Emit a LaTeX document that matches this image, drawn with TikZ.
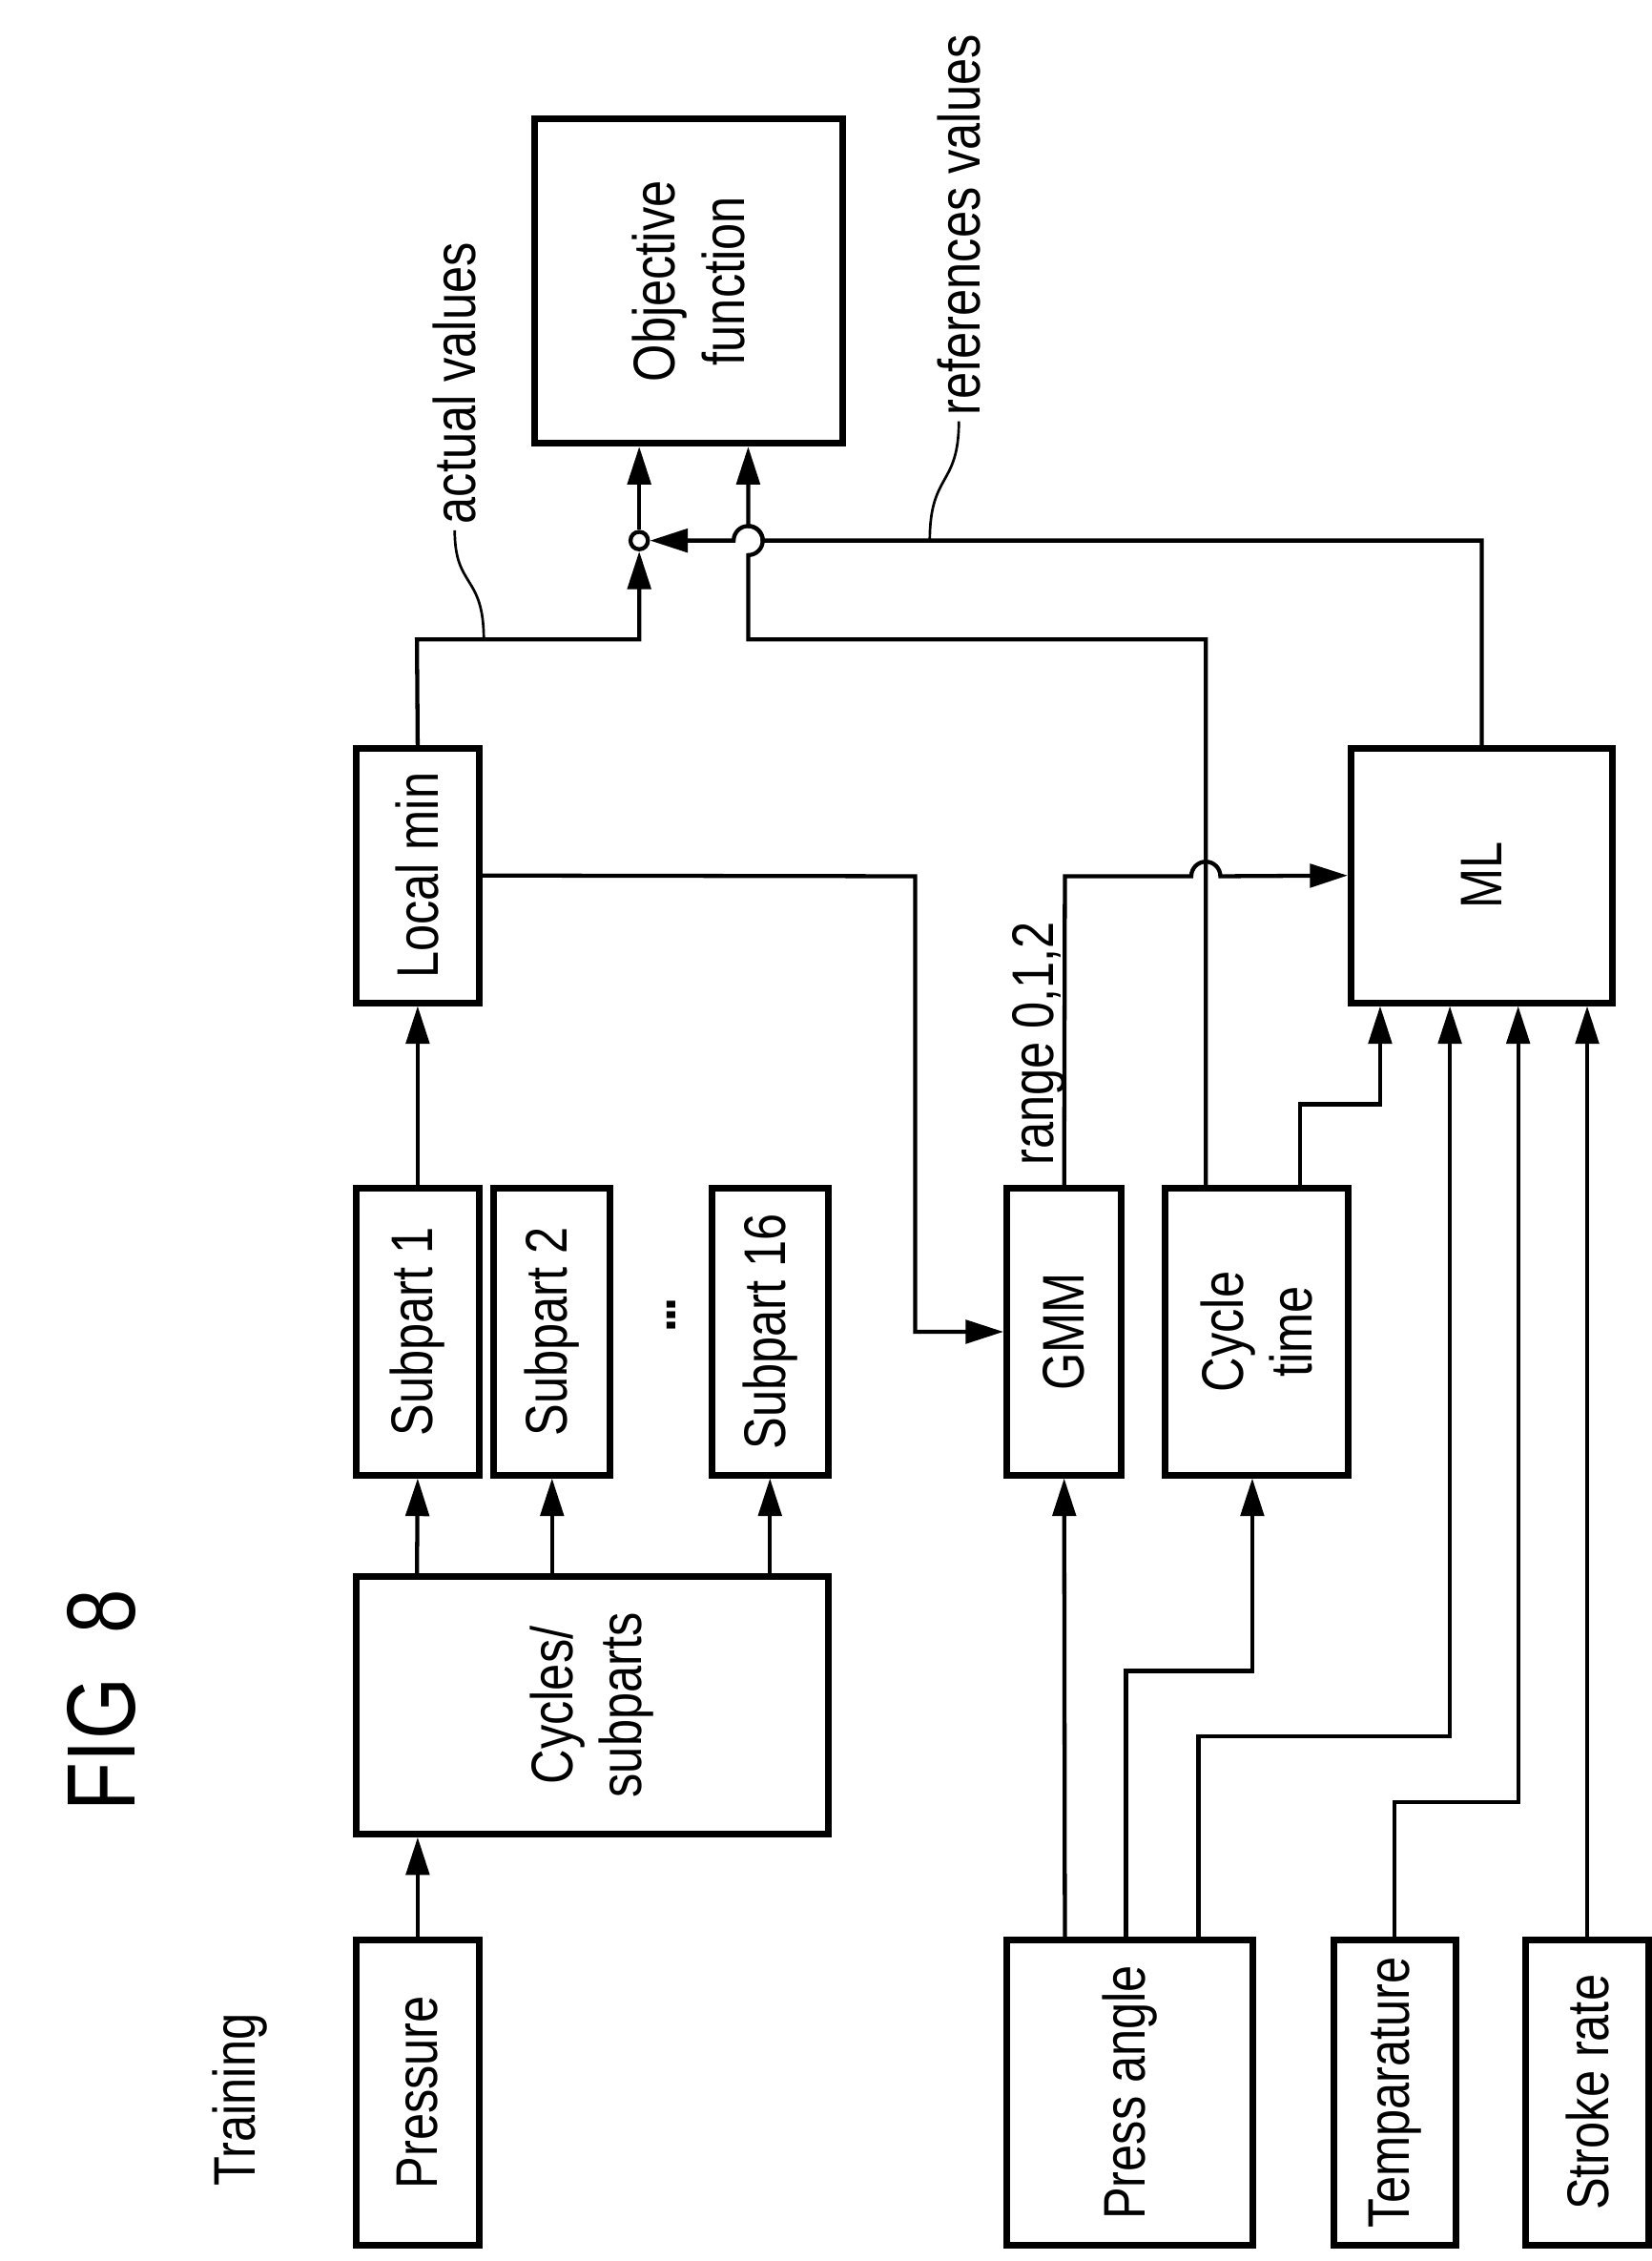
\documentclass[tikz,border=0pt]{standalone}
\usepackage{fontspec}
\setmainfont{Liberation Sans}[FakeStretch=0.82]
\usetikzlibrary{arrows.meta,positioning,calc}

\begin{document}
\begin{tikzpicture}[
		x=0.01cm,y=-0.01cm,
		>={Triangle[length=2.6mm,width=1.6mm]},
		line width=0.5pt,
		every node/.style={font=\fontsize{11.5}{13.5}\selectfont},
		box/.style={
			draw,
			line width=1.3pt,
			inner sep=0pt
		},
		txt/.style={
			rotate=90,
			align=center
		},
		flow/.style={
			->,
			line width=0.8pt
		},
		junction/.style={
			draw,
			circle,
			fill=white,
			line width=0.8pt,
			minimum size=1.2mm,
			inner sep=0pt
		}
		]
		\useasboundingbox (0,0) rectangle (1137,1556);
		% titles
		\node[txt,font=\fontsize{19}{20}\selectfont] (fig) at (70,1170) {FIG\ \ 8};
		\node[txt] (training) at (165,1445) {Training};
		% inputs
		\node[box,minimum width=0.85cm,minimum height=2.1cm] (pressure) at (287.5,1440) {};
		\node[txt] at (pressure) {Pressure};
		\node[box,minimum width=1.69cm,minimum height=2.1cm] (press) at (777.5,1440) {};
		\node[txt] at (press) {Press angle};
		\node[box,minimum width=0.84cm,minimum height=2.1cm] (temp) at (960,1440) {};
		\node[txt] at (temp) {Temparature};
		\node[box,minimum width=0.85cm,minimum height=2.1cm] (stroke) at (1092.5,1440) {};
		\node[txt] at (stroke) {Stroke rate};
		% processing
		\node[box,minimum width=3.25cm,minimum height=1.77cm] (cycles) at (407.5,1173.5) {};
		\node[txt] at (cycles) {Cycles/\\subparts};
		\node[box,minimum width=0.85cm,minimum height=1.97cm] (sub1) at (287.5,916.5) {};
		\node[txt] at (sub1) {Subpart 1};
		\node[box,minimum width=0.8cm,minimum height=1.97cm] (sub2) at (380,916.5) {};
		\node[txt] at (sub2) {Subpart 2};
		\node[box,minimum width=0.8cm,minimum height=1.97cm] (sub16) at (530,916.5) {};
		\node[txt] at (sub16) {Subpart 16};
		\node[txt,inner sep=0pt] (dots) at (462,905) {\textbf{.\kern-0.5pt.\kern-0.5pt.}};
		\node[box,minimum width=0.85cm,minimum height=1.75cm] (localmin) at (287.5,602.5) {};
		\node[txt] at (localmin) {Local min};
		\node[box,minimum width=0.79cm,minimum height=1.97cm] (gmm) at (732.5,916.5) {};
		\node[txt] at (gmm) {GMM};
		\node[box,minimum width=1.26cm,minimum height=1.97cm] (cycletime) at (865,916.5) {};
		\node[txt] at (cycletime) {Cycle\\time};
		\node[box,minimum width=1.8cm,minimum height=1.75cm] (ml) at (1020,602.5) {};
		\node[txt] at (ml) {ML};
		\node[box,minimum width=2.12cm,minimum height=2.23cm] (objective) at (474,193.5) {};
		\node[txt] at (objective) {Objective\\function};
		\node[junction] (join) at (440,372) {};
		% connectors
		\draw[flow] (pressure.north) -- (pressure.north |- cycles.south);
		\draw[flow] (287,0 |- cycles.north) -- (sub1.south);
		\draw[flow] (380,0 |- cycles.north) -- (sub2.south);
		\draw[flow] (530,0 |- cycles.north) -- (sub16.south);
		\draw[flow] (sub1.north) -- (localmin.south);
		\draw[flow] (localmin.north) -- (287,440) -| (join.south);
		\draw[flow] (join.north) -- (join.north |- objective.south);
		\draw[flow] (localmin.east) -- (630,603) |- (gmm.west);
		\draw[flow] (gmm.north) -- (733,603) -- (820,603)
			arc[start angle=180,end angle=0,radius=1mm] -- (ml.west);
		\draw[flow] (830,0 |- cycletime.north) -- (830,440) -- (515,440) -- (515,382)
			arc[start angle=-90,end angle=90,radius=1mm] -- (515,0 |- objective.south);
		\draw[flow] (895,0 |- cycletime.north) -- (895,760) -| (950,0 |- ml.south);
		\draw[flow] (ml.north) -- (1020,372) -- (525,372)
			arc[start angle=0,end angle=180,radius=1mm] -- (join.east);
		\draw[flow] (733,0 |- press.north) -- (gmm.south);
		\draw[flow] (775,0 |- press.north) -- (775,1150) -| (862,0 |- cycletime.south);
		\draw[flow] (825,0 |- press.north) -- (825,1195) -| (998,0 |- ml.south);
		\draw[flow] (temp.north) -- (960,1240) -| (1045,0 |- ml.south);
		\draw[flow] (stroke.north) -- (stroke.north |- ml.south);
		% labels
		\draw (333,440) .. controls (333,395) and (313,405) .. (313,365)
			node[rotate=90,anchor=west,inner sep=1pt] (actual) {actual values};
		\draw (640,372) .. controls (640,325) and (660,335) .. (660,290)
			node[rotate=90,anchor=west,inner sep=1pt] (refs) {references values};
		\node[rotate=90,anchor=west,inner sep=2pt] (range) at (715,810) {range 0,1,2};
	\end{tikzpicture}
\end{document}
